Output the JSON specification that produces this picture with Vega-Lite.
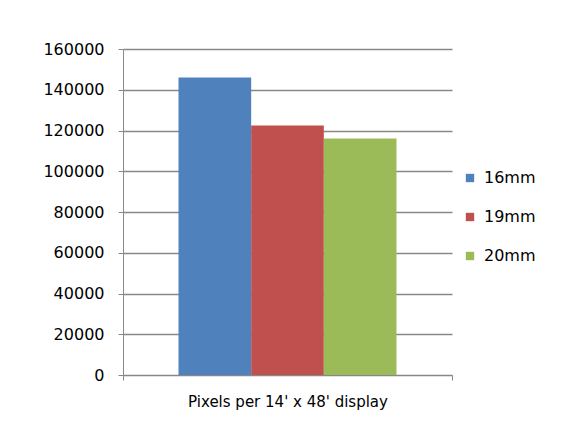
{
  "$schema": "https://vega.github.io/schema/vega-lite/v6.json",
  "width": 329,
  "height": 326,
  "padding": {"left": 42, "top": 41, "right": 5, "bottom": 5},
  "autosize": {"type": "pad"},
  "data": {
    "values": [
      {"category": "Pixels per 14' x 48' display", "size": "16mm", "pixels": 146000},
      {"category": "Pixels per 14' x 48' display", "size": "19mm", "pixels": 122400},
      {"category": "Pixels per 14' x 48' display", "size": "20mm", "pixels": 116100}
    ]
  },
  "mark": {"type": "bar"},
  "encoding": {
    "x": {
      "field": "category",
      "type": "nominal",
      "scale": {"paddingInner": 0, "paddingOuter": 0},
      "axis": {
        "title": null,
        "labelAngle": 0,
        "labelLimit": 0,
        "tickBand": "extent",
        "domainColor": "#888888",
        "tickColor": "#888888",
        "tickSize": 5,
        "labelFontSize": 15,
        "labelColor": "#000000",
        "labelPadding": 14
      }
    },
    "xOffset": {
      "field": "size",
      "type": "nominal",
      "scale": {"paddingInner": 0, "paddingOuter": 0.764}
    },
    "y": {
      "field": "pixels",
      "type": "quantitative",
      "scale": {"domain": [0, 160000]},
      "axis": {
        "title": null,
        "values": [0, 20000, 40000, 60000, 80000, 100000, 120000, 140000, 160000],
        "format": "d",
        "domainColor": "#888888",
        "tickColor": "#888888",
        "tickSize": 5,
        "gridColor": "#888888",
        "gridWidth": 1.3,
        "labelFontSize": 16,
        "labelColor": "#000000",
        "labelPadding": 14
      }
    },
    "color": {
      "field": "size",
      "type": "nominal",
      "scale": {"domain": ["16mm", "19mm", "20mm"], "range": ["#4F81BD", "#C0504D", "#9BBB59"]},
      "legend": {
        "title": null,
        "orient": "none",
        "legendX": 339,
        "legendY": 121,
        "symbolType": "square",
        "symbolSize": 70,
        "symbolStrokeWidth": 0,
        "labelFontSize": 16,
        "labelColor": "#000000",
        "rowPadding": 23,
        "labelOffset": 6
      }
    }
  },
  "config": {
    "view": {"stroke": null},
    "font": "DejaVu Sans",
    "background": "#ffffff"
  }
}
